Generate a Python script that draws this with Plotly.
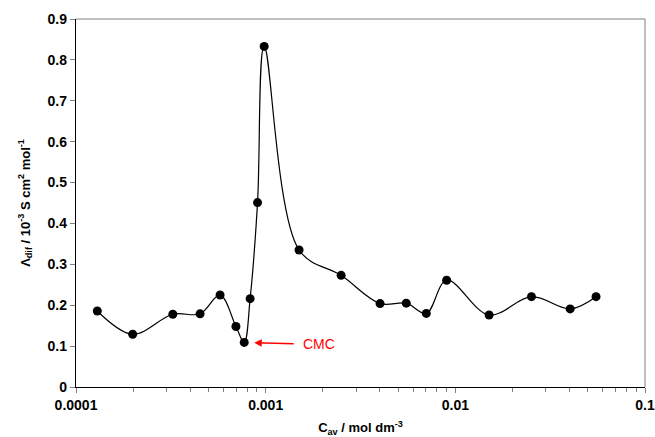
import math
import plotly.graph_objects as go

c_av = [1.295e-4, 1.99e-4, 3.24e-4, 4.51e-4, 5.75e-4, 6.97e-4, 7.71e-4, 8.28e-4,
        9.06e-4, 9.82e-4, 1.50e-3, 2.50e-3, 4.01e-3, 5.51e-3, 7.03e-3, 9.0e-3,
        1.507e-2, 2.52e-2, 4.03e-2, 5.52e-2]
lam_dif = [0.186, 0.129, 0.178, 0.179, 0.225, 0.148, 0.109, 0.216,
           0.451, 0.833, 0.335, 0.273, 0.204, 0.205, 0.180, 0.261,
           0.176, 0.221, 0.191, 0.221]

x_tickvals = [1e-4, 1e-3, 1e-2, 1e-1]
x_ticktext = ["0.0001", "0.001", "0.01", "0.1"]
y_tickvals = [0, 0.1, 0.2, 0.3, 0.4, 0.5, 0.6, 0.7, 0.8, 0.9]
y_ticktext = ["0", "0.1", "0.2", "0.3", "0.4", "0.5", "0.6", "0.7", "0.8", "0.9"]
minor_vals = [m * 10 ** e for e in (-4, -3, -2) for m in range(2, 10)]

cmc_x = 7.71e-4
cmc_y = 0.109

fig = go.Figure()
fig.add_trace(go.Scatter(
    x=c_av, y=lam_dif, mode="lines+markers",
    line=dict(color="black", width=1.2, shape="spline", smoothing=1.0),
    marker=dict(color="black", size=9),
    showlegend=False,
))

font = "Liberation Sans, Arial, sans-serif"

fig.update_layout(
    width=655, height=437,
    margin=dict(l=76, r=10, t=19, b=50),
    paper_bgcolor="white", plot_bgcolor="white",
    font=dict(family=font, color="black"),
    xaxis=dict(
        type="log", range=[-4, -1], automargin=False,
        tickmode="array", tickvals=x_tickvals, ticktext=x_ticktext,
        ticks="outside", ticklen=5, tickcolor="#808080", tickwidth=1,
        showline=True, linecolor="black", linewidth=1.3,
        showgrid=False, zeroline=False,
        minor=dict(tickvals=minor_vals, ticks="outside", ticklen=4,
                   tickcolor="#808080", tickwidth=1, showgrid=False),
        tickfont=dict(family=font, size=14, color="black", weight="bold"),
        title=dict(text="<b>C<sub>av</sub> / mol dm<sup>-3</sup></b>",
                   font=dict(family=font, size=13, color="black"), standoff=12),
    ),
    yaxis=dict(
        range=[0, 0.9], automargin=False,
        tickmode="array", tickvals=y_tickvals, ticktext=y_ticktext,
        ticks="outside", ticklen=5, tickcolor="#808080", tickwidth=1,
        showline=True, linecolor="black", linewidth=1.3,
        showgrid=False, zeroline=False,
        tickfont=dict(family=font, size=14, color="black", weight="bold"),
        title=dict(text="<b>Λ<sub>dif</sub> / 10<sup>-3</sup> S cm<sup>2</sup> mol<sup>-1</sup></b>",
                   font=dict(family=font, size=13, color="black"), standoff=14),
    ),
    shapes=[
        dict(type="line", xref="paper", yref="paper", x0=0, x1=1, y0=1, y1=1,
             line=dict(color="#808080", width=1)),
        dict(type="line", xref="paper", yref="paper", x0=1, x1=1, y0=0, y1=1,
             line=dict(color="#808080", width=1)),
    ],
    annotations=[
        dict(x=math.log10(cmc_x), y=cmc_y, xref="x", yref="y", text="CMC",
             showarrow=True, arrowhead=2, arrowsize=1, arrowwidth=1.5,
             arrowcolor="red", ax=75, ay=2, standoff=10, borderpad=9,
             font=dict(family=font, size=14, color="red")),
    ],
)

fig.write_html("out.html")
